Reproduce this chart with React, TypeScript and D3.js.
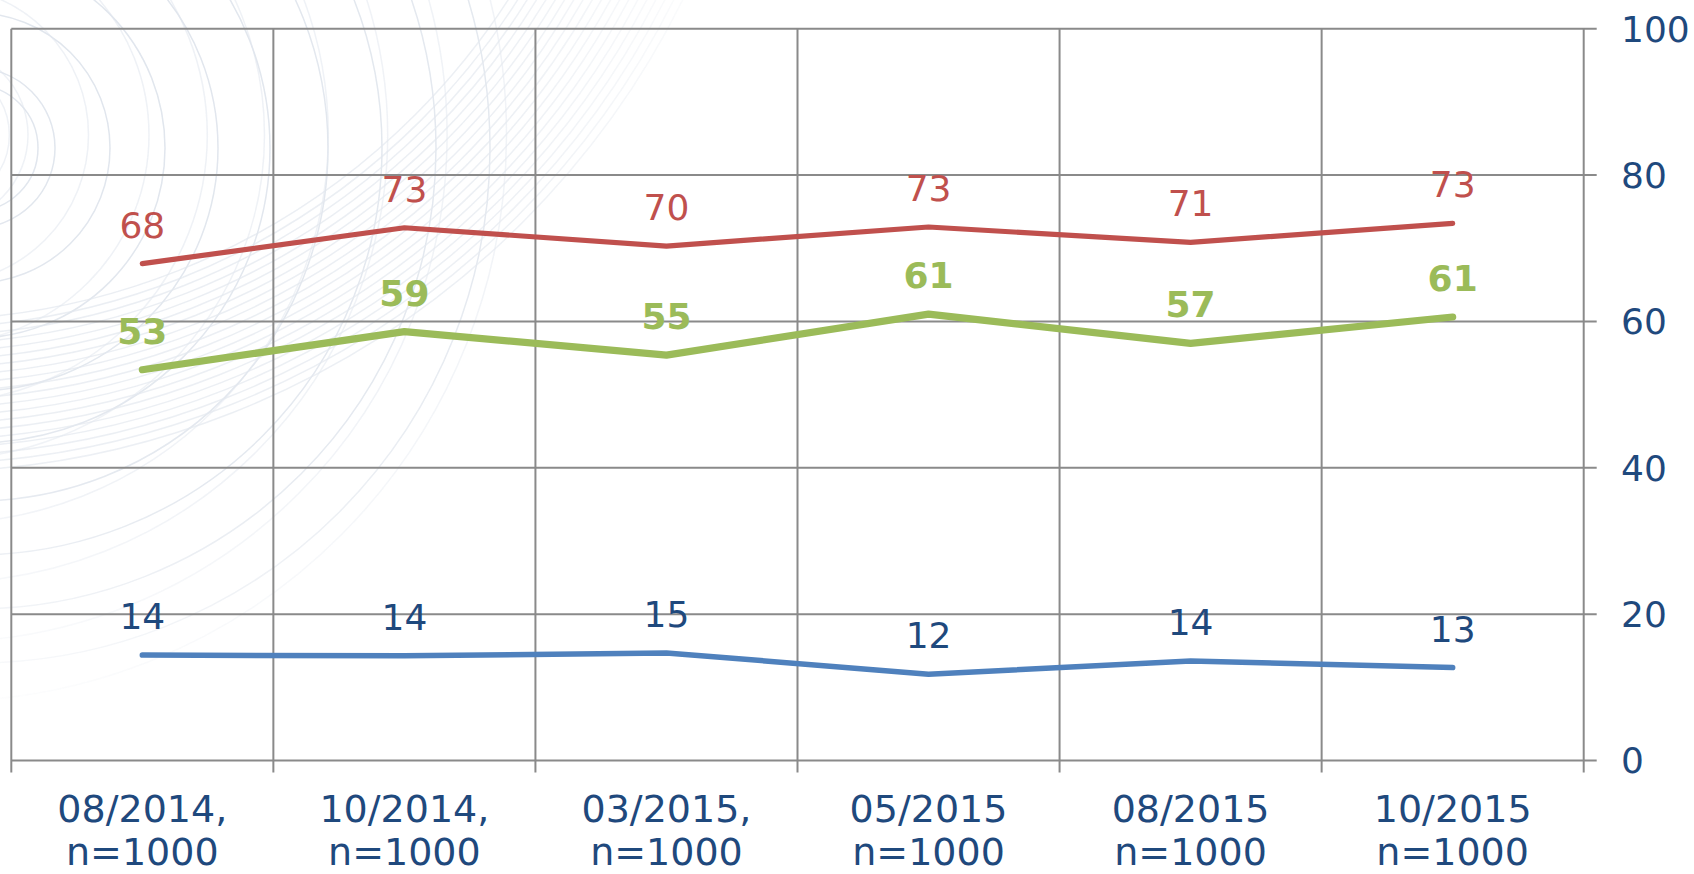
import React from "react";
import * as d3 from "d3";

const categories = ["08/2014,", "10/2014,", "03/2015,", "05/2015", "08/2015", "10/2015"];
const sampleLabels = ["n=1000", "n=1000", "n=1000", "n=1000", "n=1000", "n=1000"];
const redValues = [67.9, 72.8, 70.3, 72.9, 70.8, 73.4];
const greenValues = [53.4, 58.6, 55.4, 61.0, 57.0, 60.6];
const blueValues = [14.4, 14.3, 14.7, 11.8, 13.6, 12.7];
const yTicks = [0, 20, 40, 60, 80, 100];

const W = 1694;
const H = 874;
const left = 11.3;
const right = 1583.7;
const top = 28.7;
const bottom = 760.5;

const FONT = "'DejaVu Sans', Verdana, sans-serif";
const NAVY = "#1F497D";
const GRID = "#8a8a8a";

const seriesList = [
  { name: "red", values: redValues, stroke: "#C0504D", width: 5.2, text: "#C0504D", bold: false },
  { name: "green", values: greenValues, stroke: "#9BBB59", width: 7.2, text: "#9BBB59", bold: true },
  { name: "blue", values: blueValues, stroke: "#4F81BD", width: 5.5, text: NAVY, bold: false },
];

// decorative watermark rings
const ringsA = [63, 80, 135, 190, 243, 295, 353, 407, 461, 515];
const ringsB = d3.range(700, 860, 8);

export default function App() {
  const x = d3.scaleBand<string>().domain(categories.map((c, i) => String(i))).range([left, right]).padding(0);
  const y = d3.scaleLinear().domain([0, 100]).range([bottom, top]);
  const cx = (i: number) => (x(String(i)) as number) + x.bandwidth() / 2;
  const line = d3
    .line<number>()
    .x((_, i) => cx(i))
    .y((d) => y(d));

  const boundaries = d3.range(categories.length + 1).map((i) => left + i * x.bandwidth());

  return (
    <svg
      width={W}
      height={H}
      style={{ position: "absolute", left: 0, top: 0, background: "#ffffff" }}
      fontFamily={FONT}
    >
      <defs>
        <radialGradient id="fade" cx="120" cy="110" r="640" gradientUnits="userSpaceOnUse">
          <stop offset="0" stopColor="#fff" stopOpacity="1" />
          <stop offset="0.6" stopColor="#fff" stopOpacity="0.85" />
          <stop offset="1" stopColor="#fff" stopOpacity="0" />
        </radialGradient>
        <mask id="wm">
          <rect x="0" y="0" width={W} height={H} fill="url(#fade)" />
        </mask>
      </defs>
      <g mask="url(#wm)" fill="none" stroke="#d6dde7" strokeWidth={1.5} opacity={0.75}>
        {ringsA.map((r, i) => (
          <circle key={"a" + i} cx={-25} cy={148} r={r} />
        ))}
        {ringsA.map((r, i) => (
          <circle key={"c" + i} cx={-60} cy={135} r={r * 1.1} opacity={0.55} />
        ))}
        {ringsB.map((r, i) => (
          <circle key={"b" + i} cx={-80} cy={-380} r={r} opacity={0.7} />
        ))}
      </g>

      {/* horizontal gridlines + right ticks */}
      {yTicks.map((t) => (
        <line key={"h" + t} x1={left} x2={right + 13} y1={y(t)} y2={y(t)} stroke={GRID} strokeWidth={2} />
      ))}
      {/* vertical gridlines + bottom ticks */}
      {boundaries.map((bx, i) => (
        <line key={"v" + i} x1={bx} x2={bx} y1={top} y2={bottom + 12} stroke={GRID} strokeWidth={2} />
      ))}

      {/* y labels on right */}
      {yTicks.map((t) => (
        <text key={"yl" + t} x={1621} y={y(t)} dy="0.36em" fontSize={36} fill={NAVY}>
          {t}
        </text>
      ))}

      {/* x labels */}
      {categories.map((c, i) => (
        <text key={"xl" + i} x={cx(i)} textAnchor="middle" fontSize={38} fill={NAVY}>
          <tspan x={cx(i)} y={822}>
            {c}
          </tspan>
          <tspan x={cx(i)} y={865}>
            {sampleLabels[i]}
          </tspan>
        </text>
      ))}

      {/* lines */}
      {seriesList.map((s) => (
        <path
          key={s.name}
          d={line(s.values) as string}
          fill="none"
          stroke={s.stroke}
          strokeWidth={s.width}
          strokeLinecap="round"
          strokeLinejoin="round"
        />
      ))}

      {/* data labels */}
      {seriesList.map((s) =>
        s.values.map((v, i) => (
          <text
            key={s.name + i}
            x={cx(i)}
            y={y(v) - 26}
            textAnchor="middle"
            fontSize={36}
            fontWeight={s.bold ? "bold" : "normal"}
            fill={s.text}
          >
            {Math.round(v)}
          </text>
        ))
      )}
    </svg>
  );
}
